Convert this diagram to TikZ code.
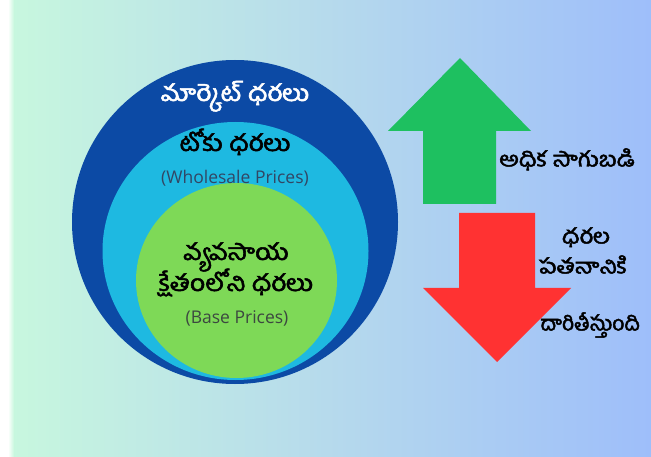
\documentclass[tikz,border=0pt]{standalone}
\usepackage{fontspec}
\usetikzlibrary{shapes.geometric}
\newfontfamily\tel[Script=Telugu, FakeBold=2.2]{Hind Guntur}
\setsansfont{Open Sans}
\newcommand{\twide}[1]{\scalebox{1.15}[1]{#1}}
\definecolor{bgL}{RGB}{200,248,222}
\definecolor{bgM}{RGB}{182,218,236}
\definecolor{bgR}{RGB}{158,190,250}
\definecolor{outerblue}{RGB}{12,74,165}
\definecolor{midcyan}{RGB}{30,185,225}
\definecolor{innergreen}{RGB}{126,217,87}
\definecolor{upgreen}{RGB}{30,192,96}
\definecolor{downred}{RGB}{255,50,50}
\definecolor{engblue}{RGB}{50,70,100}
\definecolor{enggray}{RGB}{60,72,64}
\begin{document}
\begin{tikzpicture}[x=1pt,y=-1pt,
  ring/.style={ellipse, inner sep=0pt, draw=none},
  telbig/.style={font=\tel\fontsize{23}{26}\selectfont, inner sep=0pt, text height=13pt, text depth=3pt},
  telside/.style={font=\tel\fontsize{21}{24}\selectfont, inner sep=0pt, text=black, text height=12pt, text depth=3pt},
  eng/.style={font=\sffamily\fontsize{17.5}{20}\selectfont, inner sep=0pt}]
\useasboundingbox (0,0) rectangle (651,457);
\clip (0,0) rectangle (651,457);
% background
\shade[left color=bgL, right color=bgR, middle color=bgM] (0,0) rectangle (651,457);
\fill[white] (0,0) rectangle (8,457);
\shade[left color=white, right color=bgL] (8,0) rectangle (14,457);
% rings
\node[ring, fill=outerblue, minimum width=326pt, minimum height=324pt] (outer) at (235,222) {};
\node[ring, fill=midcyan, minimum width=266pt, minimum height=258pt] (mid) at (235.5,251) {};
\node[ring, fill=innergreen, minimum width=201pt, minimum height=195pt] (inner) at (236.5,280.5) {};
% ring texts
\node[telbig, text=white] (mkt) at (235,96) {\twide{మార్కెట్ ధరలు}};
\node[telbig, text=black] (tok) at (235,146) {\twide{టోకు ధరలు}};
\node[eng, text=engblue] (whole) at (235,178) {(Wholesale Prices)};
\node[telbig, text=black] (vya) at (236,255) {\twide{వ్యవసాయ}};
\node[telbig, text=black] (kshe) at (236,286) {\twide{క్షేతంలోని ధరలు}};
\node[eng, text=enggray] (base) at (237,318) {(Base Prices)};
% arrows
\fill[upgreen] (460,58) -- (531,131) -- (496,131) -- (496,204) -- (423,204) -- (423,131) -- (388,131) -- cycle;
\fill[downred] (459,213) -- (535,213) -- (535,288) -- (571,288) -- (497,362) -- (423,288) -- (459,288) -- cycle;
% side texts
\node[telside, anchor=west] (adhika) at (499,162) {\twide{అధిక సాగుబడి}};
\node[telside] (dhara) at (586,239) {\twide{ధరల}};
\node[telside] (patana) at (583,269) {\twide{పతనానికి}};
\node[telside, anchor=west] (dari) at (540,326) {దారితీస్తుంది};
\end{tikzpicture}
\end{document}
